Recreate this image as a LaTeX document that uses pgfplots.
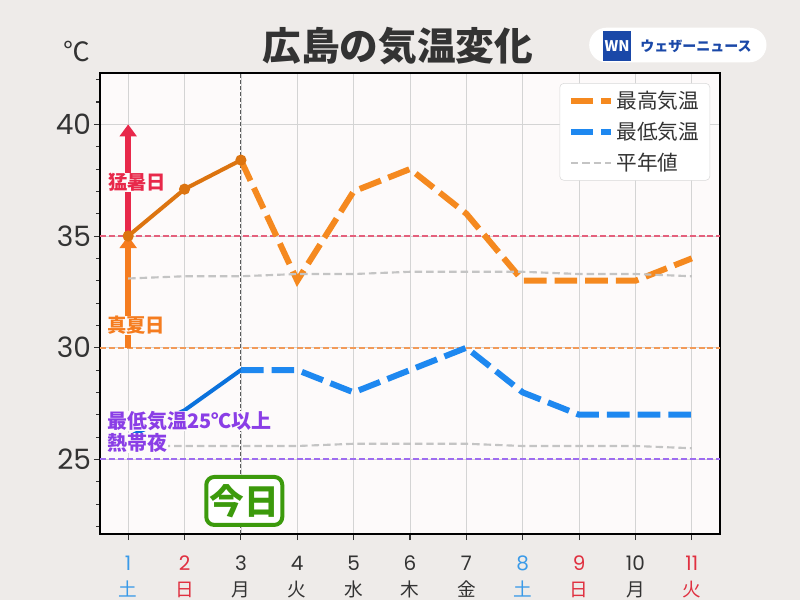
\documentclass[border=0pt]{standalone}
\usepackage{fontspec}
\setmainfont{Noto Sans CJK JP}[BoldFont={Noto Sans CJK JP Bold}]
\newfontfamily\heavy{Noto Sans CJK JP Black}
\newfontfamily\numfont{Poppins}
\usepackage{pgfplots}
\pgfplotsset{compat=1.18}
\usetikzlibrary{arrows.meta}
\definecolor{bgcol}{HTML}{EEEBE9}
\definecolor{plotbg}{HTML}{FDFAFA}
\definecolor{txt}{HTML}{333333}
\definecolor{hiD}{HTML}{F5891F}
\definecolor{hiS}{HTML}{DC7410}
\definecolor{loD}{HTML}{1E88F0}
\definecolor{loS}{HTML}{0B72DC}
\definecolor{norm}{HTML}{C4C4C4}
\definecolor{refred}{HTML}{E4607C}
\definecolor{reforg}{HTML}{F29A58}
\definecolor{refpur}{HTML}{9E6CF0}
\definecolor{hotred}{HTML}{E8284A}
\definecolor{hotorg}{HTML}{F57C1F}
\definecolor{purp}{HTML}{8A3EE6}
\definecolor{todayg}{HTML}{3C9A0C}
\definecolor{wkblue}{HTML}{3A9AE8}
\definecolor{wkred}{HTML}{E03040}
\definecolor{wnblue}{HTML}{1A48A8}
\newcommand{\wday}[3]{\node[anchor=base, yshift=-46.5pt, text=#2, font=\fontsize{14}{14}\selectfont] at (axis cs:#1,21.66) {#3};}
\begin{document}
\begin{tikzpicture}[x=1pt,y=1pt]
\path[use as bounding box, fill=bgcol] (-75,-49.5) rectangle (525,400.5);
\begin{axis}[
  at={(0,0)}, anchor=south west, scale only axis,
  width=465pt, height=345.75pt,
  xmin=0.5, xmax=11.5, ymin=21.66, ymax=42.3,
  clip=false,
  axis background/.style={fill=plotbg},
  axis line style={line width=1.6pt, black},
  xtick={1,2,3,4,5,6,7,8,9,10,11},
  xticklabels={\textcolor{wkblue}{1},\textcolor{wkred}{2},3,4,5,6,7,\textcolor{wkblue}{8},\textcolor{wkred}{9},10,\textcolor{wkred}{11}},
  xticklabel style={font=\numfont\fontsize{15}{15}\selectfont, text=txt, yshift=-8.5pt},
  ytick={25,30,35,40},
  yticklabels={25,30,35,40},
  yticklabel style={font=\numfont\fontsize{21}{21}\selectfont, text=txt, inner xsep=2pt},
  minor ytick={22,23,24,26,27,28,29,31,32,33,34,36,37,38,39,41,42},
  tick align=outside, xtick pos=lower, ytick pos=left,
  major tick length=4.5pt, minor tick length=3pt,
  tick style={txt, line width=0.8pt},
  xmajorgrids, ymajorgrids,
  major grid style={color=black!17, line width=0.5pt},
  legend style={at={(0.984,0.978)}, anchor=north east, fill=white, draw=black!15,
    rounded corners=3pt, font=\fontsize{15.5}{15.5}\selectfont, text=txt,
    row sep=4.5pt, inner xsep=6pt, inner ysep=4pt},
  legend cell align=left,
  legend image code/.code={\draw[#1] (0pt,0pt) -- (30pt,0pt);},
]
% reference lines
\addplot[refred, line width=1.5pt, dash pattern=on 4.5pt off 2.2pt, forget plot] coordinates {(0.5,35)(11.5,35)};
\addplot[reforg, line width=1.5pt, dash pattern=on 4.5pt off 2.2pt, forget plot] coordinates {(0.5,30)(11.5,30)};
\addplot[refpur, line width=1.5pt, dash pattern=on 4.5pt off 2.2pt, forget plot] coordinates {(0.5,25)(11.5,25)};
% normals
\addplot[norm, line width=1.6pt, dash pattern=on 5.6pt off 3pt, forget plot] coordinates {(1,25.6)(2,25.6)(3,25.6)(4,25.6)(5,25.7)(6,25.7)(7,25.7)(8,25.6)(9,25.6)(10,25.6)(11,25.5)};
% today line
\addplot[black!65, line width=0.7pt, dash pattern=on 3pt off 1.5pt, forget plot] coordinates {(3,21.66)(3,42.3)};
% arrows
\addplot[hotred, line width=4.5pt, -{Triangle[width=12.5pt,length=9pt]}, forget plot] coordinates {(1,35)(1,40)};
\addplot[hotorg, line width=4.5pt, -{Triangle[width=12.5pt,length=9pt]}, forget plot] coordinates {(1,30)(1,35)};
% observed
\addplot[loS, line width=3pt, forget plot] coordinates {(1,26.0)(2,27.2)(3,29.0)};
\addplot[hiS, line width=3pt, mark=*, mark size=2.6pt, mark options={solid}, forget plot] coordinates {(1,35)(2,37.1)(3,38.4)};
% forecasts
\addplot[hiD, line width=4.5pt, dash pattern=on 17pt off 6pt] coordinates {(3,38.4)(4,33)(5,37)(6,38)(7,36)(8,33)(9,33)(10,33)(11,34)};
\addlegendentry{最高気温}
\addplot[loD, line width=4.5pt, dash pattern=on 17pt off 6pt] coordinates {(3,29)(4,29)(5,28)(6,29)(7,30)(8,28)(9,27)(10,27)(11,27)};
\addlegendentry{最低気温}
\addplot[norm, line width=1.6pt, dash pattern=on 5.6pt off 3pt] coordinates {(1,33.1)(2,33.2)(3,33.2)(4,33.3)(5,33.3)(6,33.4)(7,33.4)(8,33.4)(9,33.3)(10,33.3)(11,33.2)};
\addlegendentry{平年値}
% weekday labels
\wday{1}{wkblue}{土}\wday{2}{wkred}{日}\wday{3}{txt}{月}\wday{4}{txt}{火}\wday{5}{txt}{水}\wday{6}{txt}{木}
\wday{7}{txt}{金}\wday{8}{wkblue}{土}\wday{9}{wkred}{日}\wday{10}{txt}{月}\wday{11}{wkred}{火}
% annotations
\node[fill=plotbg, inner sep=0.5pt, text=hotred, font=\heavy\fontsize{14.5}{14.5}\selectfont] at (axis cs:1.16,37.4) {猛暑日};
\node[fill=plotbg, inner sep=0.5pt, text=hotorg, font=\heavy\fontsize{14.5}{14.5}\selectfont] at (axis cs:1.14,31.0) {真夏日};
\node[fill=plotbg, inner sep=0.5pt, anchor=west, text=purp, font=\heavy\fontsize{15}{15}\selectfont] at (axis cs:0.61,26.72) {最低気温25℃以上};
\node[fill=plotbg, inner sep=0.5pt, anchor=west, text=purp, font=\heavy\fontsize{15}{15}\selectfont] at (axis cs:0.61,25.73) {熱帯夜};
\node[draw=todayg, line width=3pt, rounded corners=6pt, fill=white, text=todayg, font=\heavy\fontsize{26}{26}\selectfont, minimum width=57pt, minimum height=36pt, inner sep=0pt] at (axis cs:3.06,23.14) {今日};
% title etc
\node[text=txt, font=\heavy\fontsize{29}{29}\selectfont] at (rel axis cs:0.4806,1.0586) {広島の気温変化};
\node[text=txt, font=\fontsize{20}{20}\selectfont] at (rel axis cs:-0.0371,1.0477) {℃};
\node[fill=white, rounded corners=13pt, minimum width=133pt, minimum height=26pt, inner sep=0pt] at (rel axis cs:0.932,1.0607) {};
\node[fill=wnblue, text=white, font=\bfseries\itshape\fontsize{11}{11}\selectfont, minimum width=21pt, minimum height=23pt, inner sep=0pt] at (rel axis cs:0.8339,1.0586) {WN};
\node[text=wnblue, font=\heavy\fontsize{10.5}{10.5}\selectfont] at (rel axis cs:0.9613,1.0586) {ウェザーニュース};
\end{axis}
\end{tikzpicture}
\end{document}
